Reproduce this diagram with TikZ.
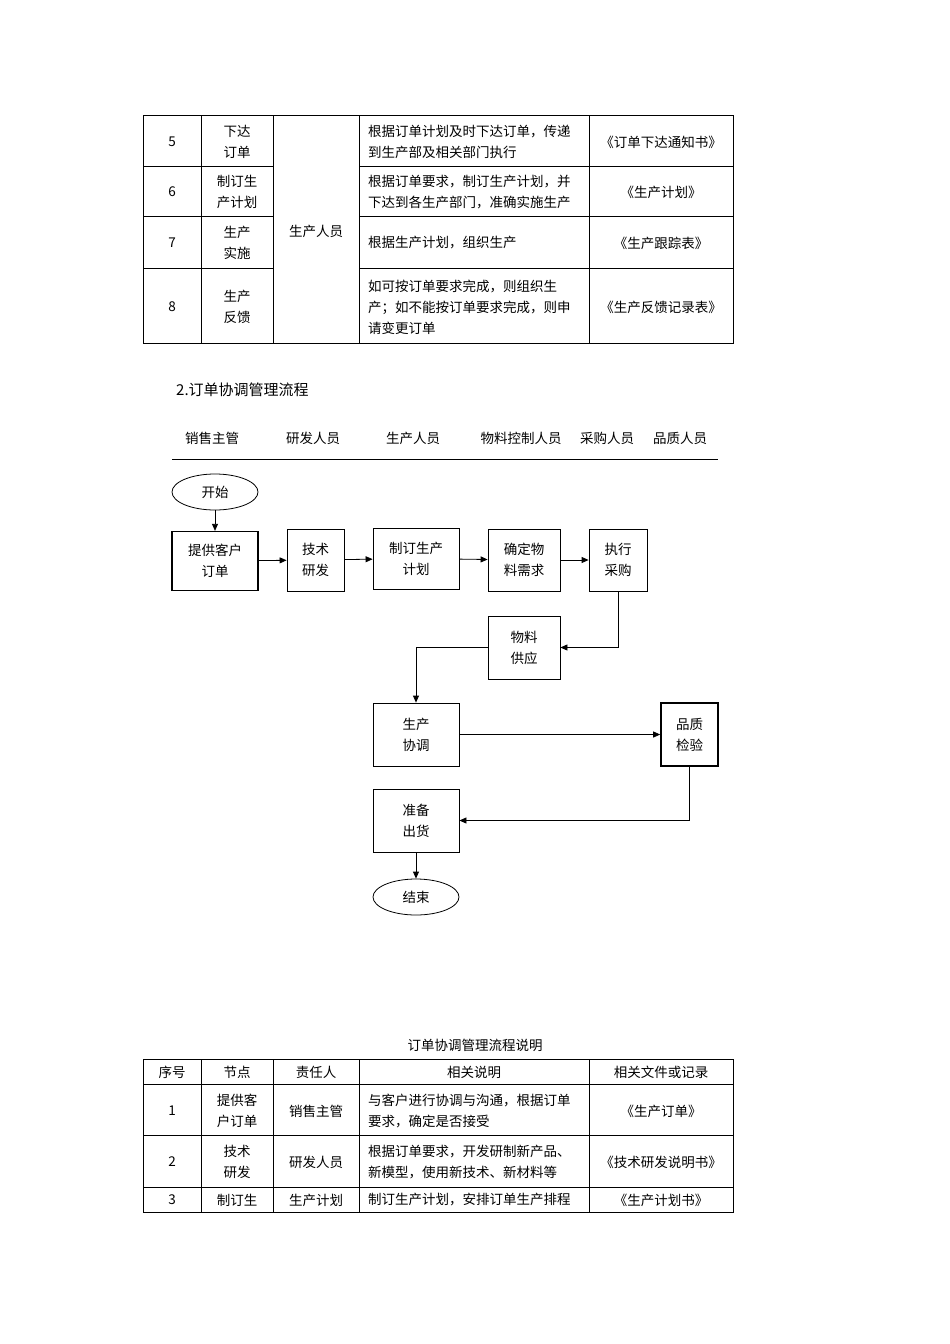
\documentclass[tikz,border=0pt]{standalone}
\usepackage{fontspec}
\setmainfont{Noto Sans CJK SC}
\usetikzlibrary{arrows.meta,shapes.geometric}
\begin{document}
\begin{tikzpicture}[x=1pt,y=-1pt,
  every node/.style={font=\fontsize{13.5}{21}\selectfont,inner sep=0pt},
  tl/.style={line width=0.8pt},
  box/.style={draw,line width=0.8pt},
  arr/.style={-{Triangle[length=7pt,width=6pt]},line width=0.8pt},
  ct/.style={align=center},
  lt/.style={align=left,anchor=west}]
\useasboundingbox (0,0) rectangle (950,1344);
% top table
\draw[tl] (143,115) rectangle (733,343);
\foreach \y in {166,216,268}{\draw[tl] (143,\y) -- (273,\y); \draw[tl] (359,\y) -- (733,\y);}
\foreach \x in {201,273,359,589}{\draw[tl] (\x,115) -- (\x,343);}
\node (n5) at (172,142) {5}; \node[ct] (k5) at (237,142) {下达\\订单};
\node[lt] (d5) at (368,142) {根据订单计划及时下达订单，传递\\到生产部及相关部门执行};
\node (f5) at (661,142) {《订单下达通知书》};
\node (n6) at (172,192) {6}; \node[ct] (k6) at (237,192) {制订生\\产计划};
\node[lt] (d6) at (368,192) {根据订单要求，制订生产计划，并\\下达到各生产部门，准确实施生产};
\node (f6) at (661,192) {《生产计划》};
\node (n7) at (172,243) {7}; \node[ct] (k7) at (237,243) {生产\\实施};
\node[lt] (d7) at (368,243) {根据生产计划，组织生产};
\node (f7) at (661,243) {《生产跟踪表》};
\node (n8) at (172,307) {8}; \node[ct] (k8) at (237,307) {生产\\反馈};
\node[lt] (d8) at (368,307) {如可按订单要求完成，则组织生\\产；如不能按订单要求完成，则申\\请变更订单};
\node (f8) at (661,307) {《生产反馈记录表》};
\node (r) at (316,231) {生产人员};
% title
\node[anchor=west,font=\fontsize{15}{18}\selectfont] (t) at (176,390) {2.订单协调管理流程};
\node (h1) at (212,438) {销售主管}; \node (h2) at (313,438) {研发人员};
\node (h3) at (413,438) {生产人员}; \node (h4) at (521,438) {物料控制人员};
\node (h5) at (607,438) {采购人员}; \node (h6) at (680,438) {品质人员};
\draw[line width=1pt] (172,459) -- (718,459);
% flowchart
\node[draw,ellipse,line width=0.8pt,minimum width=86pt,minimum height=36pt] (s) at (215,492) {开始};
\node[box,line width=1.3pt,ct,minimum width=86pt,minimum height=59pt] (a) at (215,561) {提供客户\\订单};
\node[box,ct,minimum width=57pt,minimum height=62pt] (b) at (315.5,560) {技术\\研发};
\node[box,ct,minimum width=86pt,minimum height=61pt] (c) at (416,558.5) {制订生产\\计划};
\node[box,ct,minimum width=72pt,minimum height=62pt] (d) at (524,560) {确定物\\料需求};
\node[box,ct,minimum width=58pt,minimum height=62pt] (e) at (618,560) {执行\\采购};
\node[box,ct,minimum width=72pt,minimum height=63pt] (f) at (524,647.5) {物料\\供应};
\node[box,ct,minimum width=86pt,minimum height=63pt] (g) at (416,734.5) {生产\\协调};
\node[box,line width=1.6pt,ct,minimum width=57pt,minimum height=63pt] (h) at (689.5,734.5) {品质\\检验};
\node[box,ct,minimum width=86pt,minimum height=63pt] (i) at (416,820.5) {准备\\出货};
\node[draw,ellipse,line width=0.8pt,minimum width=86pt,minimum height=36pt] (z) at (416,897) {结束};
\draw[arr] (s) -- (a);
\draw[arr] (a) -- (b);
\draw[arr] (b) -- (c);
\draw[arr] (c) -- (d);
\draw[arr] (d) -- (e);
\draw[arr] (e.south) |- (f.east);
\draw[arr] (f.west) -| (g.north);
\draw[arr] (g) -- (h);
\draw[arr] (h.south) |- (i.east);
\draw[arr] (i) -- (z);
% bottom table
\node (cap) at (475,1045) {订单协调管理流程说明};
\draw[tl] (143,1059) rectangle (733,1212);
\foreach \y in {1084,1135,1187}{\draw[tl] (143,\y) -- (733,\y);}
\foreach \x in {201,273,359,589}{\draw[tl] (\x,1059) -- (\x,1212);}
\node (q0) at (172,1072) {序号}; \node (q1) at (237,1072) {节点}; \node (q2) at (316,1072) {责任人};
\node (q3) at (474,1072) {相关说明}; \node (q4) at (661,1072) {相关文件或记录};
\node (m1) at (172,1111) {1}; \node[ct] (p1) at (237,1111) {提供客\\户订单}; \node (r1) at (316,1111) {销售主管};
\node[lt] (s1) at (368,1111) {与客户进行协调与沟通，根据订单\\要求，确定是否接受}; \node (w1) at (661,1111) {《生产订单》};
\node (m2) at (172,1162) {2}; \node[ct] (p2) at (237,1162) {技术\\研发}; \node (r2) at (316,1162) {研发人员};
\node[lt] (s2) at (368,1162) {根据订单要求，开发研制新产品、\\新模型，使用新技术、新材料等}; \node (w2) at (661,1162) {《技术研发说明书》};
\node (m3) at (172,1200) {3}; \node (p3) at (237,1200) {制订生}; \node (r3) at (316,1200) {生产计划};
\node[lt] (s3) at (368,1200) {制订生产计划，安排订单生产排程}; \node (w3) at (661,1200) {《生产计划书》};
\end{tikzpicture}
\end{document}
